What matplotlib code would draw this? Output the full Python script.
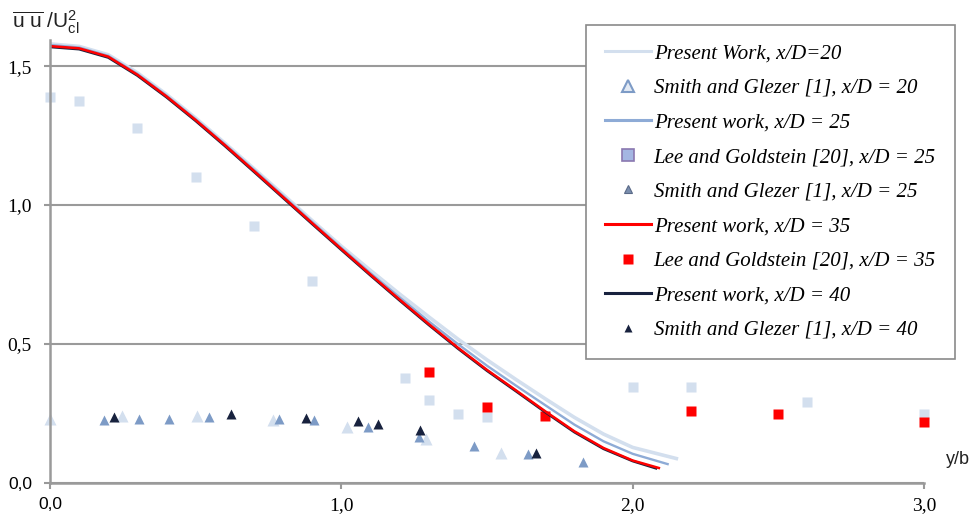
import matplotlib
matplotlib.use("Agg")
import matplotlib.pyplot as plt
from matplotlib.lines import Line2D

plt.rcParams['mathtext.fontset'] = 'custom'
plt.rcParams['mathtext.rm'] = 'Liberation Sans'
plt.rcParams['mathtext.it'] = 'Liberation Sans'

# present work curves
x_pw20 = [0, 0.1, 0.2, 0.3, 0.4, 0.5, 0.6, 0.7, 0.8, 0.9, 1.0, 1.1, 1.2, 1.3, 1.4, 1.5, 1.6, 1.7, 1.8, 1.9, 2.0, 2.15]
y_pw20 = [1.58, 1.571, 1.541, 1.476, 1.398, 1.313, 1.223, 1.131, 1.038, 0.944, 0.852, 0.765, 0.68, 0.598, 0.518, 0.443, 0.372, 0.303, 0.236, 0.176, 0.128, 0.088]
x_pw25 = [0, 0.1, 0.2, 0.3, 0.4, 0.5, 0.6, 0.7, 0.8, 0.9, 1.0, 1.1, 1.2, 1.3, 1.4, 1.5, 1.6, 1.7, 1.8, 1.9, 2.0, 2.12]
y_pw25 = [1.576, 1.567, 1.537, 1.472, 1.394, 1.309, 1.219, 1.127, 1.033, 0.939, 0.846, 0.755, 0.668, 0.582, 0.50, 0.422, 0.35, 0.28, 0.21, 0.15, 0.105, 0.068]
x_pw35 = [0, 0.1, 0.2, 0.3, 0.4, 0.5, 0.6, 0.7, 0.8, 0.9, 1.0, 1.1, 1.2, 1.3, 1.4, 1.5, 1.6, 1.7, 1.8, 1.9, 2.0, 2.09]
y_pw35 = [1.572, 1.564, 1.534, 1.469, 1.391, 1.306, 1.216, 1.123, 1.029, 0.935, 0.842, 0.75, 0.66, 0.572, 0.487, 0.407, 0.333, 0.258, 0.186, 0.126, 0.081, 0.054]
x_pw40 = [0, 0.1, 0.2, 0.3, 0.4, 0.5, 0.6, 0.7, 0.8, 0.9, 1.0, 1.1, 1.2, 1.3, 1.4, 1.5, 1.6, 1.7, 1.8, 1.9, 2.0, 2.08]
y_pw40 = [1.569, 1.561, 1.531, 1.466, 1.388, 1.303, 1.213, 1.12, 1.026, 0.932, 0.839, 0.747, 0.657, 0.569, 0.484, 0.404, 0.33, 0.255, 0.183, 0.123, 0.079, 0.053]

# Lee and Goldstein
x_lg25 = [0.0, 0.1, 0.3, 0.5, 0.7, 0.9, 1.22, 1.3, 1.4, 1.5, 2.0, 2.2, 2.6, 3.0]
y_lg25 = [1.388, 1.374, 1.277, 1.10, 0.924, 0.727, 0.378, 0.30, 0.25, 0.238, 0.345, 0.345, 0.29, 0.25]
x_lg35 = [1.3, 1.5, 1.7, 2.2, 2.5, 3.0]
y_lg35 = [0.40, 0.273, 0.24, 0.26, 0.25, 0.22]

# Smith and Glezer
x_sg20 = [0.0, 0.247, 0.506, 0.765, 1.02, 1.29, 1.547]
y_sg20 = [0.23, 0.241, 0.241, 0.227, 0.20, 0.158, 0.108]
x_sg25 = [0.186, 0.305, 0.41, 0.546, 0.787, 0.905, 1.09, 1.265, 1.455, 1.64, 1.83]
y_sg25 = [0.227, 0.23, 0.23, 0.237, 0.23, 0.227, 0.20, 0.165, 0.133, 0.104, 0.076]
x_sg40 = [0.22, 0.62, 0.88, 1.056, 1.127, 1.27, 1.667]
y_sg40 = [0.237, 0.248, 0.234, 0.223, 0.212, 0.19, 0.108]

labels = ["Present Work, x/D=20", "Smith and Glezer [1], x/D = 20",
          "Present work, x/D = 25", "Lee and Goldstein [20], x/D = 25",
          "Smith and Glezer [1], x/D = 25", "Present work, x/D = 35",
          "Lee and Goldstein [20], x/D = 35", "Present work, x/D = 40",
          "Smith and Glezer [1], x/D = 40"]

c_light = '#d3dfee'
c_mid = '#8eabd6'
c_red = '#ff0000'
c_dark = '#18223e'

fig = plt.figure(figsize=(9.8, 5.18), dpi=100)
ax = fig.add_axes([50/980, 1-483/518, 874/980, 443/518])

ax.plot(x_sg20, y_sg20, '^', color=c_light, ms=8.5, mec='none', clip_on=False)
ax.plot(x_lg25, y_lg25, 's', color=c_light, ms=7.5, mec='none', clip_on=False)
ax.plot(x_sg25, y_sg25, '^', color='#7d9bc6', ms=6.5, mec='none', clip_on=False)
ax.plot(x_lg35, y_lg35, 's', color=c_red, ms=7, mec='none', clip_on=False)
ax.plot(x_sg40, y_sg40, '^', color=c_dark, ms=6.5, mec='none', clip_on=False)

ax.plot(x_pw20, y_pw20, color=c_light, lw=2.6)
ax.plot(x_pw25, y_pw25, color=c_mid, lw=1.7)
ax.plot(x_pw40, y_pw40, color=c_dark, lw=1.9)
ax.plot(x_pw35, y_pw35, color=c_red, lw=1.8)

ax.set_xlim(0, 3.0)
ax.set_ylim(0, 1.594)
ax.set_xticks([0, 1, 2, 3])
ax.set_xticklabels(["0,0", "1,0", "2,0", "3,0"])
ax.set_yticks([0, 0.5, 1.0, 1.5])
ax.set_yticklabels(["0,0", "0,5", "1,0", "1,5"])
for t in ax.get_xticklabels() + ax.get_yticklabels():
    t.set_fontfamily('Liberation Serif')
    t.set_fontsize(14)
for t in [ax.get_xticklabels()[0], ax.get_yticklabels()[0]]:
    t.set_fontfamily('Liberation Sans')
    t.set_fontsize(12.5)
ax.tick_params(axis='both', direction='out', length=4, width=1.5, color='#999999', pad=9)
ax.tick_params(axis='x', pad=6)

for s in ['top', 'right']:
    ax.spines[s].set_visible(False)
for s in ['left', 'bottom']:
    ax.spines[s].set_color('#9a9a9a')
    ax.spines[s].set_linewidth(1.8)
ax.yaxis.grid(True, color='#9a9a9a', lw=1.5)
ax.set_axisbelow(True)

fig.text(12/980, 1-22/518, r'$\overline{\mathrm{u\ u}}\ /\mathrm{U}^{2}_{\mathrm{cl}}$',
         fontsize=15, va='center', ha='left', color='#222222')
fig.text(946/980, 1-460/518, 'y/b', fontsize=13, family='Liberation Sans', va='center', color='#222222')

handles = [
    Line2D([], [], color=c_light, lw=2.2),
    Line2D([], [], ls='none', marker='^', ms=8, mfc='#e3eaf4', mec='#7d9bc6', mew=1.5),
    Line2D([], [], color=c_mid, lw=2.2),
    Line2D([], [], ls='none', marker='s', ms=8, mfc='#a4b6e2', mec='#8a78b0', mew=1.2),
    Line2D([], [], ls='none', marker='^', ms=6, mfc='#7a8eae', mec='#5a6a88', mew=0.8),
    Line2D([], [], color=c_red, lw=2.2),
    Line2D([], [], ls='none', marker='s', ms=6.5, color=c_red, mec='none'),
    Line2D([], [], color=c_dark, lw=2.2),
    Line2D([], [], ls='none', marker='^', ms=6, color=c_dark, mec='none'),
]
leg = ax.legend(handles, labels, loc='upper left', bbox_to_anchor=(586/980, 1-25/518),
                bbox_transform=fig.transFigure, borderaxespad=0, fancybox=False,
                framealpha=1, edgecolor='#8a8a8a', handlelength=2.2, handletextpad=0.15,
                labelspacing=0.72, borderpad=0.9,
                prop={'family': 'Liberation Serif', 'style': 'italic', 'size': 15})
leg.get_frame().set_linewidth(1.2)

plt.savefig("out.png", dpi=100)
